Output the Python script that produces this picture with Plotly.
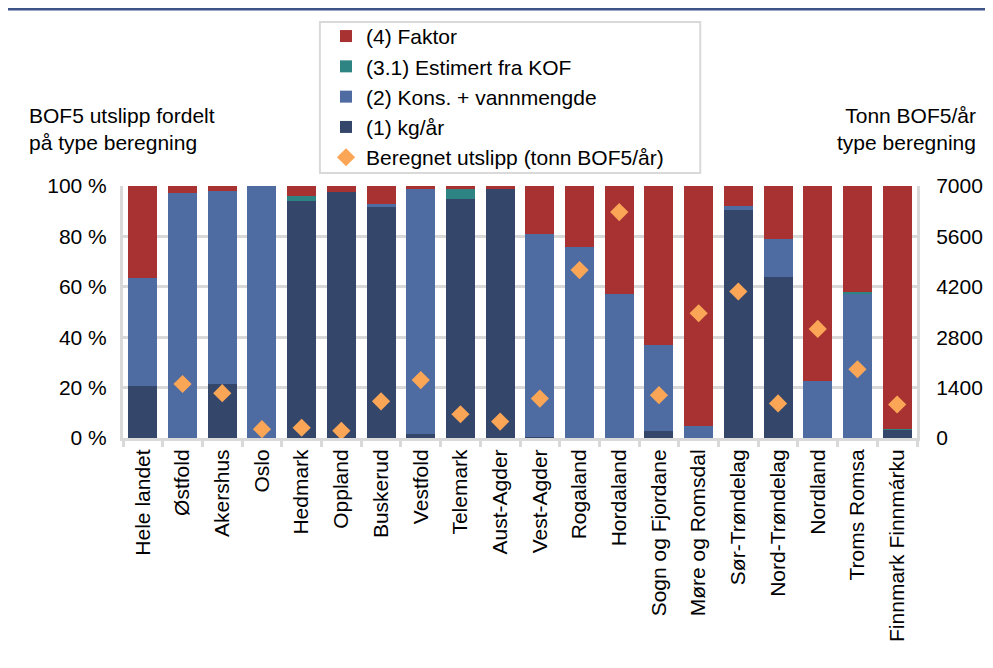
import plotly.graph_objects as go

categories = ["Hele landet", "Østfold", "Akershus", "Oslo", "Hedmark", "Oppland",
              "Buskerud", "Vestfold", "Telemark", "Aust-Agder", "Vest-Agder",
              "Rogaland", "Hordaland", "Sogn og Fjordane", "Møre og Romsdal",
              "Sør-Trøndelag", "Nord-Trøndelag", "Nordland", "Troms Romsa",
              "Finnmark Finnmárku"]

kg_aar = [20.5, 0, 21.6, 0, 94.2, 97.5, 91.8, 1.5, 94.7, 98.8, 0.3, 0, 0, 2.7, 0, 90.3, 63.7, 0, 0, 3.3]
kons_vann = [43.0, 97.1, 76.5, 100, 0, 0, 1.0, 97.3, 0, 0, 80.6, 75.9, 57.1, 34.1, 4.8, 1.8, 15.2, 22.7, 57.3, 0]
estimert_kof = [0, 0, 0, 0, 2.0, 0, 0, 0, 4.0, 0, 0, 0, 0, 0, 0, 0, 0, 0, 0.7, 0.4]
faktor = [36.5, 2.9, 1.9, 0, 3.8, 2.5, 7.2, 1.2, 1.3, 1.2, 19.1, 24.1, 42.9, 63.2, 95.2, 7.9, 21.1, 77.3, 42.0, 96.3]
beregnet = [None, 1500, 1245, 245, 285, 200, 1020, 1610, 660, 455, 1095, 4665, 6275, 1190, 3465, 4070, 960, 3030, 1910, 930]

y_ticks = [0, 20, 40, 60, 80, 100]
y_tick_labels = ["0 %", "20 %", "40 %", "60 %", "80 %", "100 %"]
y2_ticks = [0, 1400, 2800, 4200, 5600, 7000]

RED = "#A83232"
TEAL = "#2E8482"
BLUE = "#4F6CA2"
DARK = "#34466A"
ORANGE = "#FBA656"
GRID = "#D9D9D9"
FONT = "Liberation Sans, Arial, sans-serif"
FS = 21

fig = go.Figure()
fig.add_trace(go.Bar(x=categories, y=kg_aar, name="(1) kg/år", marker_color=DARK,
                     marker_line_width=0, legendrank=4))
fig.add_trace(go.Bar(x=categories, y=kons_vann, name="(2) Kons. + vannmengde", marker_color=BLUE,
                     marker_line_width=0, legendrank=3))
fig.add_trace(go.Bar(x=categories, y=estimert_kof, name="(3.1) Estimert fra KOF", marker_color=TEAL,
                     marker_line_width=0, legendrank=2))
fig.add_trace(go.Bar(x=categories, y=faktor, name="(4) Faktor", marker_color=RED,
                     marker_line_width=0, legendrank=1))
fig.add_trace(go.Scatter(x=categories, y=beregnet, name="Beregnet utslipp (tonn BOF5/år)",
                         mode="markers", yaxis="y2",
                         marker=dict(symbol="diamond", size=14, color=ORANGE, line_width=0),
                         legendrank=5))

fig.update_layout(
    width=985, height=660,
    margin=dict(l=115, r=76, t=178, b=230, autoexpand=False),
    barmode="stack", bargap=0.27,
    plot_bgcolor="white", paper_bgcolor="white",
    font=dict(family=FONT, size=FS, color="black"),
    showlegend=True,
    legend=dict(x=0.2557, xanchor="left", y=1.675, yanchor="top",
                xref="paper", yref="paper",
                traceorder="normal", borderwidth=0,
                font=dict(size=FS), itemwidth=30, tracegroupgap=0,
                bgcolor="rgba(0,0,0,0)"),
    xaxis=dict(tickangle=-90, showline=True, linecolor=GRID, linewidth=3,
               range=[-0.5, len(categories) - 0.5],
               ticks="outside", tickson="boundaries", ticklen=6, tickcolor=GRID, tickwidth=3,
               showgrid=False, tickfont=dict(size=FS), automargin=False),
    yaxis=dict(range=[0, 100], tickvals=y_ticks, ticktext=y_tick_labels,
               showgrid=True, gridcolor=GRID, gridwidth=3, showline=True,
               linecolor=GRID, linewidth=3, zeroline=False, ticks="", tickfont=dict(size=FS),
               ticklabelstandoff=9, automargin=False),
    yaxis2=dict(range=[0, 7000], tickvals=y2_ticks, overlaying="y", side="right",
                showgrid=False, showline=True, linecolor=GRID, linewidth=3, zeroline=False,
                ticks="", tickfont=dict(size=FS), ticklabelstandoff=12, automargin=False),
)

fig.add_annotation(text="BOF5 utslipp fordelt<br>på type beregning", xref="paper", yref="paper",
                   x=-0.121, y=1.119, xanchor="left", yanchor="bottom",
                   align="left", showarrow=False, font=dict(size=FS))
fig.add_annotation(text="Tonn BOF5/år<br>type beregning", xref="paper", yref="paper",
                   x=1.077, y=1.119, xanchor="right", yanchor="bottom",
                   align="right", showarrow=False, font=dict(size=FS))

# legend frame
fig.add_shape(type="rect", xref="paper", yref="paper", x0=0.248, x1=0.727,
              y0=1.052, y1=1.651, line=dict(color=GRID, width=2), fillcolor="rgba(0,0,0,0)",
              layer="below")
# top rule
fig.add_shape(type="line", xref="paper", yref="paper", x0=-0.2, x1=1.2,
              y0=1.702, y1=1.702, line=dict(color="#3C5488", width=3))

fig.write_html("out.html")
